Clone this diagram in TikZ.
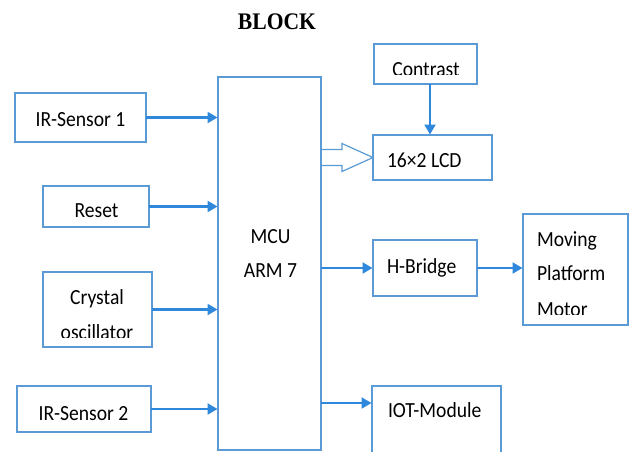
\documentclass[tikz,border=0pt]{standalone}
\usepackage{fontspec}
\setmainfont{Carlito}
\newfontfamily\titlefont{Liberation Serif}
\usetikzlibrary{arrows.meta,calc}
\definecolor{boxblue}{RGB}{91,155,213}
\definecolor{arrblue}{RGB}{48,136,220}
\newcommand{\tall}[1]{\scalebox{1}[1.1]{#1}}
\tikzset{
  blk/.style={draw=boxblue, line width=1.2pt, inner sep=0pt, outer sep=0pt, fill=white},
  lbl/.style={inner sep=0pt, outer sep=0pt, font=\fontsize{19.6}{20}\selectfont, text=black},
  arr/.style={draw=arrblue, line width=2.2pt, -{Triangle[length=10pt,width=11pt]}, shorten >=0.5pt},
  hollow/.style={draw=boxblue, line width=1.2pt, line join=miter}
}
\begin{document}
\begin{tikzpicture}[x=1pt,y=-1pt]
\clip (0,0) rectangle (633,451);
\fill[white] (0,0) rectangle (633,451);

% title
\node[inner sep=0pt, anchor=base, font=\titlefont\bfseries\fontsize{21.6}{22}\selectfont] (title) at (277,29) {\tall{BLOCK}};

% boxes
\node[blk, minimum width=131, minimum height=49] (ir1) at (80.5,117.5) {};
\node[blk, minimum width=106, minimum height=41] (reset) at (96,206.5) {};
\node[blk, minimum width=109, minimum height=75] (xtal) at (97.5,309.5) {};
\node[blk, minimum width=134, minimum height=46] (ir2) at (84,409) {};
\node[blk, minimum width=103, minimum height=373] (mcu) at (269.5,263.5) {};
\node[blk, minimum width=103, minimum height=40] (contrast) at (425.5,64) {};
\node[blk, minimum width=119, minimum height=45] (lcd) at (432.5,157.5) {};
\node[blk, minimum width=104, minimum height=56] (hb) at (425,268) {};
\node[blk, minimum width=105, minimum height=111] (motor) at (575.5,269.5) {};
\node[blk, minimum width=129, minimum height=84] (iot) at (436.5,428) {};

% labels
\node[lbl, anchor=base] (ir1t) at (80.5,126) {\tall{IR-Sensor 1}};
\node[lbl, anchor=base] (resett) at (96.5,217) {\tall{Reset}};
\node[lbl, anchor=base] (xtalt) at (97,304) {\tall{Crystal}};
\node[lbl, anchor=base] (ir2t) at (83.5,420) {\tall{IR-Sensor 2}};
\node[lbl, anchor=base] (mcut) at (270.5,243) {\tall{MCU}};
\node[lbl, anchor=base] (armt) at (270.5,277) {\tall{ARM 7}};
\node[lbl, anchor=base west] (lcdt) at (387,167) {\tall{16×2 LCD}};
\node[lbl, anchor=base west] (hbt) at (387,273) {\tall{H-Bridge}};
\node[lbl, anchor=base west] (movt) at (537,246.5) {\tall{Moving}};
\node[lbl, anchor=base west] (platt) at (537,280.5) {\tall{Platform}};
\node[lbl, anchor=base west] (iott) at (388,417) {\tall{IOT-Module}};

% text lines cut off at the lower edge of their text frames
\begin{scope}
  \clip (375,45) rectangle (476,74.5);
  \node[lbl, anchor=base] (contt) at (426,76) {\tall{Contrast}};
\end{scope}
\begin{scope}
  \clip (44,273) rectangle (151,337);
  \node[lbl, anchor=base] (osct) at (97,339) {\tall{oscillator}};
\end{scope}
\begin{scope}
  \clip (524,215) rectangle (627,314.5);
  \node[lbl, anchor=base west] (mott) at (537,316) {\tall{Motor}};
\end{scope}

% inputs to the MCU
\draw[arr] (ir1.east) -- (ir1.east -| mcu.west);
\draw[arr] (reset.east) -- (reset.east -| mcu.west);
\draw[arr] (xtal.east) -- (xtal.east -| mcu.west);
\draw[arr] (ir2.east) -- (ir2.east -| mcu.west);

% outputs of the MCU
\draw[arr] (hb.west -| mcu.east) -- (hb.west);
\draw[arr] (hb.east) -- (hb.east -| motor.west);
\coordinate (iotin) at ($(iot.north west)+(0,17)$);
\draw[arr] (iotin -| mcu.east) -- (iotin);
\draw[arr] ([xshift=4.5pt]contrast.south) -- ([xshift=4.5pt]contrast.south |- lcd.north);

% hollow block arrow into the LCD (data bus)
\coordinate (bus) at (lcd.west);
\draw[hollow] ($(bus -| mcu.east)+(0,-8)$) -- ($(bus)+(-31,-8)$) -- ($(bus)+(-31,-14)$)
  -- (bus) -- ($(bus)+(-31,14)$) -- ($(bus)+(-31,8)$) -- ($(bus -| mcu.east)+(0,8)$);
\end{tikzpicture}
\end{document}
